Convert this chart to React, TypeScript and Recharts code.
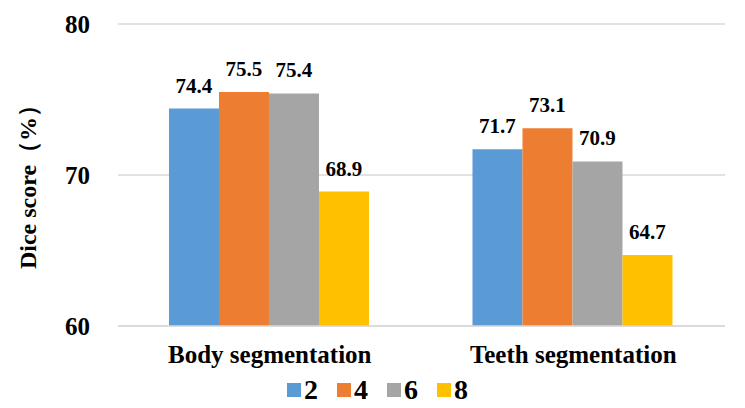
import React from 'react';
import { BarChart, Bar, XAxis, YAxis, CartesianGrid, Legend, LabelList } from 'recharts';

const categories = ['Body segmentation', 'Teeth segmentation'];
const seriesNames = ['2', '4', '6', '8'];
const values2 = [74.4, 71.7];
const values4 = [75.5, 73.1];
const values6 = [75.4, 70.9];
const values8 = [68.9, 64.7];
const yTicks = [60, 70, 80];

const seriesValues = [values2, values4, values6, values8];
const COLORS = ['#5B9BD5', '#ED7D31', '#A5A5A5', '#FFC000'];
const FONT = '"Liberation Serif", "Times New Roman", serif';

const data = categories.map((name, i) => {
  const row: any = { name };
  seriesNames.forEach((s, j) => {
    row['s' + s] = seriesValues[j][i];
  });
  return row;
});

const renderLegend = () => (
  <div
    style={{
      height: 36,
      width: 745,
      boxSizing: 'border-box',
      paddingLeft: 287,
      display: 'flex',
      alignItems: 'center',
      fontFamily: FONT,
      fontWeight: 'bold',
      fontSize: 28,
      color: '#000',
    }}
  >
    {seriesNames.map((s, i) => (
      <div key={s} style={{ display: 'flex', alignItems: 'center', marginRight: i < seriesNames.length - 1 ? 19 : 0 }}>
        <span style={{ display: 'inline-block', width: 14, height: 14, background: COLORS[i], marginRight: 3 }} />
        <span>{s}</span>
      </div>
    ))}
  </div>
);

const renderYLabel = (props: any) => {
  const vb = props.viewBox || {};
  const cx = 28;
  const cy = vb.y + vb.height / 2 + 6;
  return (
    <text
      x={cx}
      y={cy}
      transform={`rotate(-90, ${cx}, ${cy})`}
      textAnchor="middle"
      dominantBaseline="central"
      fontFamily={FONT}
      fontWeight="bold"
      fontSize={24}
      fill="#000"
    >
      Dice score（%）
    </text>
  );
};

export default function App() {
  return (
    <div style={{ position: 'absolute', left: 0, top: 0, width: 745, height: 408, background: '#fff' }}>
      <BarChart
        width={745}
        height={408}
        data={data}
        margin={{ top: 24, right: 20, left: 0, bottom: 0 }}
        barCategoryGap="16.8%"
        barGap={0}
      >
        <CartesianGrid vertical={false} stroke="#D9D9D9" strokeWidth={1.5} />
        <XAxis
          dataKey="name"
          height={46}
          tickLine={false}
          axisLine={{ stroke: '#D9D9D9', strokeWidth: 1.5 }}
          tickMargin={13}
          tick={{ fontFamily: FONT, fontWeight: 'bold', fontSize: 25, fill: '#000' }}
        />
        <YAxis
          width={118}
          domain={[60, 80]}
          ticks={yTicks}
          tickLine={false}
          axisLine={false}
          tickMargin={22}
          tick={{ fontFamily: FONT, fontWeight: 'bold', fontSize: 25, fill: '#000' }}
          label={{ content: renderYLabel }}
        />
        <Legend
          verticalAlign="bottom"
          content={renderLegend}
          wrapperStyle={{ left: 0, width: 745, bottom: 0 }}
        />
        {seriesNames.map((s, i) => (
          <Bar key={s} dataKey={'s' + s} name={s} fill={COLORS[i]} isAnimationActive={false}>
            <LabelList
              dataKey={'s' + s}
              position="top"
              offset={16}
              style={{ fontFamily: FONT, fontWeight: 'bold', fontSize: 21, fill: '#000' }}
            />
          </Bar>
        ))}
      </BarChart>
    </div>
  );
}
